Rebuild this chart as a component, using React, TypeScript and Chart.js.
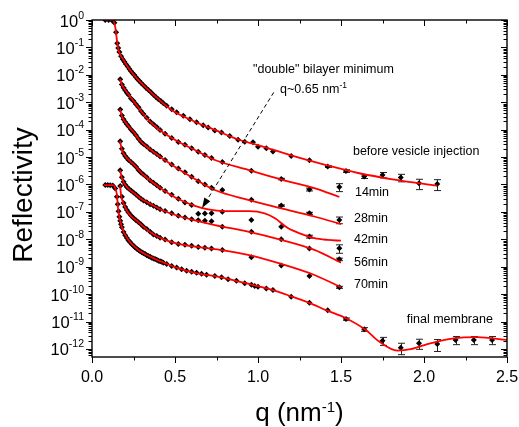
import React, { useEffect, useRef } from 'react';
import { Chart, registerables } from 'chart.js';

Chart.register(...registerables);

const FONT = '"Liberation Sans", Arial, Helvetica, sans-serif';

// ---------- axes ----------
const xTickValues = [0, 0.5, 1.0, 1.5, 2.0, 2.5];
const xTickLabels = ['0.0', '0.5', '1.0', '1.5', '2.0', '2.5'];
const xMinorTicks = [0.25, 0.75, 1.25, 1.75, 2.25];
const yExponents = [0, -1, -2, -3, -4, -5, -6, -7, -8, -9, -10, -11, -12];
const yMin = 5.1e-13;
const yMax = 1;

// ---------- before vesicle injection ----------
const beforeQ = [0.08, 0.10, 0.12, 0.135, 0.145, 0.152, 0.158, 0.165, 0.175, 0.185, 0.195, 0.205, 0.215, 0.225, 0.235, 0.245, 0.255, 0.265, 0.275, 0.285, 0.295, 0.31, 0.325, 0.34, 0.355, 0.37, 0.385, 0.40, 0.415, 0.43, 0.45, 0.48, 0.51, 0.55, 0.59, 0.63, 0.67, 0.70, 0.74, 0.78, 0.83, 0.88, 0.92, 0.97, 1.00, 1.05, 1.09, 1.20, 1.31, 1.42, 1.53, 1.64, 1.75, 1.86, 1.97, 2.08];
const beforeR = [1.0, 0.99, 0.98, 0.79, 0.355, 0.141, 0.095, 0.068, 0.048, 0.037, 0.030, 0.0245, 0.020, 0.0162, 0.0135, 0.0115, 0.0098, 0.0081, 0.0069, 0.0059, 0.0051, 0.0042, 0.0034, 0.0028, 0.0023, 0.00186, 0.00155, 0.00129, 0.0011, 0.00091, 0.00074, 0.00055, 0.00043, 0.00032, 0.00024, 0.000186, 0.000145, 0.00012, 9.3e-5, 7.8e-5, 5.9e-5, 4.3e-5, 3.6e-5, 3.5e-5, 2.4e-5, 2.1e-5, 1.6e-5, 1.1e-5, 7.6e-6, 4.5e-6, 3.1e-6, 1.95e-6, 2.24e-6, 1.8e-6, 1.1e-6, 1.05e-6];
const beforeErr = [3e-7, 3.5e-7, 3e-7, 5e-7, 5.5e-7, 4.5e-7, 4.5e-7];
const beforeFitQ = [0.075, 0.125, 0.14, 0.15, 0.16, 0.19, 0.22, 0.29, 0.36, 0.48, 0.62, 0.74, 0.89, 1.0, 1.21, 1.41, 1.61, 1.81, 2.08];
const beforeFitR = [1.0, 1.0, 0.55, 0.186, 0.081, 0.035, 0.0178, 0.0055, 0.00214, 0.00052, 0.000195, 9.8e-5, 4.2e-5, 2.75e-5, 1.1e-5, 5.1e-6, 2.57e-6, 1.55e-6, 9.1e-7];

// ---------- shared q grid of the time series ----------
const timeQ = [0.17, 0.18, 0.19, 0.20, 0.21, 0.22, 0.235, 0.25, 0.265, 0.28, 0.295, 0.31, 0.33, 0.35, 0.37, 0.39, 0.41, 0.44, 0.48, 0.52, 0.56, 0.60, 0.64, 0.68, 0.72, 0.785, 0.96, 1.14, 1.31, 1.49];

// ---------- 14 min ----------
const min14R = [6.9e-3, 4.4e-3, 3.4e-3, 2.75e-3, 2.24e-3, 1.86e-3, 1.38e-3, 1.1e-3, 8.5e-4, 6.5e-4, 4.8e-4, 3.7e-4, 2.7e-4, 2.0e-4, 1.58e-4, 1.26e-4, 9.8e-5, 7.1e-5, 5.0e-5, 3.55e-5, 2.8e-5, 2.1e-5, 1.58e-5, 1.2e-5, 9.3e-6, 6.6e-6, 3.2e-6, 1.58e-6, 6.6e-7, 8.1e-7];
const min14Err = [1e-7, 8e-8, 2.6e-7];
const min14FitQ = [0.169, 0.18, 0.2, 0.26, 0.29, 0.34, 0.42, 0.52, 0.62, 0.74, 0.94, 1.14, 1.34, 1.49];
const min14FitR = [7.1e-3, 4.3e-3, 2.8e-3, 9.3e-4, 5.2e-4, 2.24e-4, 8.5e-5, 3.6e-5, 1.82e-5, 7.8e-6, 3.4e-6, 1.51e-6, 7.4e-7, 3.5e-7];

// ---------- 28 min ----------
const min28R = [5.4e-4, 3.3e-4, 2.4e-4, 1.9e-4, 1.58e-4, 1.32e-4, 1.02e-4, 8.1e-5, 6.3e-5, 4.7e-5, 3.6e-5, 3.0e-5, 2.45e-5, 1.9e-5, 1.58e-5, 1.29e-5, 1.05e-5, 7.8e-6, 5.4e-6, 3.8e-6, 2.8e-6, 1.9e-6, 1.32e-6, 1.0e-6, 7.6e-7, 6.3e-7, 2.75e-7, 1.7e-7, 8.9e-8, 5.1e-8];
const min28Err = [1e-8, 8e-9, 1.4e-8];
const min28FitQ = [0.169, 0.18, 0.2, 0.26, 0.29, 0.34, 0.42, 0.52, 0.62, 0.74, 0.94, 1.14, 1.34, 1.5];
const min28FitR = [5.6e-4, 3.16e-4, 1.9e-4, 6.9e-5, 3.9e-5, 2.14e-5, 9.3e-6, 3.7e-6, 1.58e-6, 6.3e-7, 2.75e-7, 1.35e-7, 6.8e-8, 3.6e-8];

// ---------- 42 min ----------
const min42R = [3.8e-5, 2.0e-5, 1.38e-5, 1.1e-5, 9.3e-6, 7.9e-6, 6.6e-6, 5.5e-6, 4.4e-6, 3.4e-6, 2.75e-6, 2.3e-6, 1.82e-6, 1.41e-6, 1.15e-6, 9.3e-7, 7.6e-7, 5.8e-7, 4.2e-7, 3.0e-7, 2.2e-7, 1.78e-7, 8.5e-8, 8.7e-8, 8.9e-8, 1.02e-7, 5.1e-8, 2.9e-8, 1.26e-8, 4.7e-9];
const min42Err = [1.5e-9, 1.6e-9];
const min42FitQ = [0.169, 0.18, 0.2, 0.26, 0.29, 0.34, 0.42, 0.52, 0.62, 0.70, 0.80, 0.95, 1.04, 1.10, 1.18, 1.26, 1.34, 1.42, 1.50];
const min42FitR = [3.9e-5, 1.82e-5, 1.1e-5, 4.8e-6, 2.95e-6, 1.58e-6, 6.9e-7, 2.95e-7, 1.66e-7, 1.23e-7, 1.07e-7, 1.07e-7, 8.9e-8, 6.0e-8, 2.57e-8, 1.58e-8, 1.1e-8, 9.5e-9, 8.9e-9];

// ---------- 56 min ----------
const min56R = [3.3e-6, 1.82e-6, 1.26e-6, 9.8e-7, 8.1e-7, 7.1e-7, 6.0e-7, 5.1e-7, 4.3e-7, 3.55e-7, 3.0e-7, 2.6e-7, 2.24e-7, 1.9e-7, 1.66e-7, 1.45e-7, 1.26e-7, 1.07e-7, 8.9e-8, 7.2e-8, 6.2e-8, 5.4e-8, 5.0e-8, 4.8e-8, 4.6e-8, 2.9e-8, 1.9e-8, 1.0e-8, 4.6e-9, 1.86e-9];
const min56Err = [2e-10];
const min56FitQ = [0.169, 0.18, 0.2, 0.26, 0.29, 0.34, 0.42, 0.52, 0.62, 0.74, 0.94, 1.14, 1.34, 1.5];
const min56FitR = [3.4e-6, 1.74e-6, 9.5e-7, 4.5e-7, 3.16e-7, 2.14e-7, 1.17e-7, 7.1e-8, 4.9e-8, 3.3e-8, 1.9e-8, 9.5e-9, 4.1e-9, 1.41e-9];

// ---------- 70 min ----------
const min70R = [8.9e-7, 3.55e-7, 2.1e-7, 1.51e-7, 1.17e-7, 9.5e-8, 7.4e-8, 6.0e-8, 5.0e-8, 4.2e-8, 3.55e-8, 2.9e-8, 2.4e-8, 1.9e-8, 1.51e-8, 1.32e-8, 1.15e-8, 9.8e-9, 7.9e-9, 6.8e-9, 6.3e-9, 5.8e-9, 5.2e-9, 4.9e-9, 4.6e-9, 4.1e-9, 2.2e-9, 1.1e-9, 4.6e-10, 1.78e-10];
const min70Err = [1.5e-11];
const min70FitQ = [0.169, 0.175, 0.19, 0.22, 0.28, 0.36, 0.44, 0.52, 0.62, 0.77, 0.94, 1.14, 1.34, 1.5];
const min70FitR = [9.5e-7, 4.2e-7, 2.0e-7, 8.9e-8, 4.2e-8, 1.66e-8, 9.5e-9, 6.8e-9, 5.4e-9, 4.1e-9, 2.7e-9, 1.26e-9, 5.0e-10, 1.78e-10];

// ---------- final membrane ----------
const finalQ = [0.08, 0.095, 0.11, 0.125, 0.14, 0.15, 0.155, 0.16, 0.165, 0.17, 0.175, 0.18, 0.19, 0.20, 0.21, 0.22, 0.23, 0.24, 0.25, 0.26, 0.27, 0.28, 0.29, 0.30, 0.31, 0.32, 0.33, 0.34, 0.35, 0.36, 0.37, 0.38, 0.39, 0.40, 0.41, 0.42, 0.43, 0.45, 0.48, 0.51, 0.54, 0.57, 0.60, 0.63, 0.66, 0.69, 0.74, 0.78, 0.82, 0.87, 0.92, 0.96, 0.98, 1.00, 1.05, 1.09, 1.20, 1.31, 1.42, 1.53, 1.64, 1.75, 1.86, 1.97, 2.08, 2.19, 2.30, 2.41];
const finalR = [9.5e-7, 9.5e-7, 9.3e-7, 9.1e-7, 7.1e-7, 3.55e-7, 1.9e-7, 1.05e-7, 6.6e-8, 4.8e-8, 3.55e-8, 2.75e-8, 1.86e-8, 1.41e-8, 1.12e-8, 9.1e-9, 7.8e-9, 6.6e-9, 5.8e-9, 5.0e-9, 4.5e-9, 4.1e-9, 3.7e-9, 3.4e-9, 3.1e-9, 2.9e-9, 2.6e-9, 2.45e-9, 2.3e-9, 2.14e-9, 2.0e-9, 1.9e-9, 1.78e-9, 1.66e-9, 1.58e-9, 1.51e-9, 1.41e-9, 1.26e-9, 1.07e-9, 9.3e-10, 8.1e-10, 7.2e-10, 6.6e-10, 6.0e-10, 5.5e-10, 5.1e-10, 4.6e-10, 4.1e-10, 3.5e-10, 3.1e-10, 2.5e-10, 2.2e-10, 2.0e-10, 1.86e-10, 1.62e-10, 1.41e-10, 8.1e-11, 4.9e-11, 2.6e-11, 1.23e-11, 5.2e-12, 2.0e-12, 1.12e-12, 1.62e-12, 1.51e-12, 2.14e-12, 2.14e-12, 2.14e-12];
const finalErr = [1.2e-12, 8e-13, 6.5e-13, 5e-13, 6.5e-13, 7e-13, 7e-13, 7e-13, 7e-13];
const finalFitQ = [0.07, 0.128, 0.14, 0.15, 0.158, 0.179, 0.219, 0.28, 0.36, 0.44, 0.52, 0.62, 0.77, 0.94, 1.01, 1.10, 1.21, 1.31, 1.41, 1.53, 1.65, 1.73, 1.84, 1.92, 2.02, 2.18, 2.32, 2.5];
const finalFitR = [9.5e-7, 9.5e-7, 7.4e-7, 4.2e-7, 1.17e-7, 2.9e-8, 9.5e-9, 4.1e-9, 2.2e-9, 1.35e-9, 8.7e-10, 6.0e-10, 4.2e-10, 2.4e-10, 1.9e-10, 1.35e-10, 7.9e-11, 4.8e-11, 2.6e-11, 1.32e-11, 4.9e-12, 1.86e-12, 8.7e-13, 9.8e-13, 1.51e-12, 2.45e-12, 2.7e-12, 2.14e-12];

// ---------- text annotations (label, q, R) ----------
const seriesLabels = ['before vesicle injection', '14min', '28min', '42min', '56min', '70min', 'final membrane'];
const seriesLabelQ = [1.572, 1.584, 1.578, 1.578, 1.578, 1.578, 1.896];
const seriesLabelR = [1.58e-5, 4.9e-7, 5.9e-8, 1.0e-8, 1.41e-9, 2.2e-10, 1.15e-11];

const series = [
  { q: beforeQ, r: beforeR, err: beforeErr, fq: beforeFitQ, fr: beforeFitR },
  { q: timeQ, r: min14R, err: min14Err, fq: min14FitQ, fr: min14FitR },
  { q: timeQ, r: min28R, err: min28Err, fq: min28FitQ, fr: min28FitR },
  { q: timeQ, r: min42R, err: min42Err, fq: min42FitQ, fr: min42FitR },
  { q: timeQ, r: min56R, err: min56Err, fq: min56FitQ, fr: min56FitR },
  { q: timeQ, r: min70R, err: min70Err, fq: min70FitQ, fr: min70FitR },
  { q: finalQ, r: finalR, err: finalErr, fq: finalFitQ, fr: finalFitR },
];

const pts = (q: number[], r: number[]) => q.map((x, i) => ({ x, y: r[i] }));

const errorBarPlugin = {
  id: 'errorBars',
  beforeDatasetsDraw(chart: any) {
    const { ctx, scales } = chart;
    ctx.save();
    ctx.strokeStyle = '#222';
    ctx.lineWidth = 1;
    chart.data.datasets.forEach((ds: any) => {
      if (!ds.errors) return;
      const off = ds.data.length - ds.errors.length;
      ds.errors.forEach((e: number, i: number) => {
        const p = ds.data[off + i];
        const px = Math.round(scales.x.getPixelForValue(p.x)) + 0.5;
        const yt = scales.y.getPixelForValue(p.y + e);
        const yb = scales.y.getPixelForValue(Math.max(p.y - e, p.y * 0.2));
        ctx.beginPath();
        ctx.moveTo(px, yt); ctx.lineTo(px, yb);
        ctx.moveTo(px - 3.5, yt); ctx.lineTo(px + 3.5, yt);
        ctx.moveTo(px - 3.5, yb); ctx.lineTo(px + 3.5, yb);
        ctx.stroke();
      });
    });
    ctx.restore();
  },
};

function drawSup(ctx: CanvasRenderingContext2D, base: string, sup: string, x: number, y: number,
  baseFont: string, supFont: string, rise: number, align: 'left' | 'center' | 'right', tail = '') {
  ctx.font = baseFont; const wb = ctx.measureText(base).width; const wt = ctx.measureText(tail).width;
  ctx.font = supFont; const ws = ctx.measureText(sup).width;
  const total = wb + ws + wt;
  let start = x;
  if (align === 'center') start = x - total / 2;
  else if (align === 'right') start = x - total;
  ctx.textAlign = 'left';
  ctx.textBaseline = 'alphabetic';
  ctx.font = baseFont; ctx.fillText(base, start, y);
  ctx.font = supFont; ctx.fillText(sup, start + wb, y - rise);
  if (tail) { ctx.font = baseFont; ctx.fillText(tail, start + wb + ws, y); }
}

const axesPlugin = {
  id: 'originAxes',
  afterDraw(chart: any) {
    const { ctx, chartArea: a, scales } = chart;
    const xs = scales.x, ys = scales.y;
    const L = Math.round(a.left), R = Math.round(a.right), T = Math.round(a.top), B = Math.round(a.bottom);
    ctx.save();
    ctx.strokeStyle = '#000';
    ctx.fillStyle = '#000';
    ctx.lineWidth = 1.4;
    ctx.strokeRect(L, T, R - L, B - T);
    ctx.lineWidth = 1;
    ctx.beginPath();
    // x ticks: bottom outward, top inward
    xTickValues.forEach((v) => {
      const px = Math.round(xs.getPixelForValue(v)) + 0.5;
      ctx.moveTo(px, B); ctx.lineTo(px, B + 6);
      ctx.moveTo(px, T); ctx.lineTo(px, T + 6);
    });
    xMinorTicks.forEach((v) => {
      const px = Math.round(xs.getPixelForValue(v)) + 0.5;
      ctx.moveTo(px, B); ctx.lineTo(px, B + 3.5);
      ctx.moveTo(px, T); ctx.lineTo(px, T + 3.5);
    });
    // y ticks: left outward, right inward
    yExponents.forEach((n) => {
      const py = Math.round(ys.getPixelForValue(Math.pow(10, n))) + 0.5;
      ctx.moveTo(L - 6, py); ctx.lineTo(L, py);
      ctx.moveTo(R - 6, py); ctx.lineTo(R, py);
    });
    for (let n = -13; n <= 0; n++) {
      for (let k = 2; k <= 9; k++) {
        const v = k * Math.pow(10, n);
        if (v < yMin || v > yMax) continue;
        const py = Math.round(ys.getPixelForValue(v)) + 0.5;
        ctx.moveTo(L - 3.5, py); ctx.lineTo(L, py);
        ctx.moveTo(R - 3.5, py); ctx.lineTo(R, py);
      }
    }
    ctx.stroke();

    // tick labels
    ctx.font = `16px ${FONT}`;
    ctx.textAlign = 'center';
    ctx.textBaseline = 'alphabetic';
    xTickValues.forEach((v, i) => {
      ctx.fillText(xTickLabels[i], xs.getPixelForValue(v), 382);
    });
    yExponents.forEach((n) => {
      const py = ys.getPixelForValue(Math.pow(10, n));
      drawSup(ctx, '10', String(n), 84, py + 6.5, `16.5px ${FONT}`, `10.5px ${FONT}`, 8, 'right');
    });

    // axis titles
    ctx.save();
    ctx.translate(32, 195);
    ctx.rotate(-Math.PI / 2);
    ctx.font = `28px ${FONT}`;
    ctx.textAlign = 'center';
    ctx.textBaseline = 'alphabetic';
    ctx.fillText('Reflectivity', 0, 0);
    ctx.restore();
    drawSup(ctx, 'q (nm', '-1', (L + R) / 2, 421, `26px ${FONT}`, `15px ${FONT}`, 9, 'center', ')');

    // series labels
    ctx.font = `12.5px ${FONT}`;
    ctx.textAlign = 'left';
    ctx.textBaseline = 'middle';
    seriesLabels.forEach((t, i) => {
      ctx.fillText(t, xs.getPixelForValue(seriesLabelQ[i]), ys.getPixelForValue(seriesLabelR[i]));
    });

    // "double" bilayer annotation
    ctx.fillText('"double" bilayer minimum', xs.getPixelForValue(0.97), ys.getPixelForValue(1.5e-2));
    drawSup(ctx, 'q~0.65 nm', '-1', xs.getPixelForValue(1.133), ys.getPixelForValue(3.3e-3) + 4.5,
      `12.5px ${FONT}`, `8.5px ${FONT}`, 5, 'left');

    // dashed arrow
    const x0 = xs.getPixelForValue(1.095), y0 = ys.getPixelForValue(2.3e-3);
    const x1 = xs.getPixelForValue(0.663), y1 = ys.getPixelForValue(1.4e-7);
    const ang = Math.atan2(y1 - y0, x1 - x0);
    const hl = 10, hw = 3.5;
    const bx = x1 - hl * Math.cos(ang), by = y1 - hl * Math.sin(ang);
    ctx.setLineDash([4, 3]);
    ctx.lineWidth = 1;
    ctx.beginPath();
    ctx.moveTo(x0, y0); ctx.lineTo(bx, by);
    ctx.stroke();
    ctx.setLineDash([]);
    ctx.beginPath();
    ctx.moveTo(x1, y1);
    ctx.lineTo(bx + hw * Math.sin(ang), by - hw * Math.cos(ang));
    ctx.lineTo(bx - hw * Math.sin(ang), by + hw * Math.cos(ang));
    ctx.closePath();
    ctx.fill();
    ctx.restore();
  },
};

export default function App() {
  const ref = useRef<HTMLCanvasElement | null>(null);
  useEffect(() => {
    if (!ref.current) return;
    const datasets: any[] = [];
    series.forEach((s) => {
      datasets.push({
        type: 'line',
        data: pts(s.fq, s.fr),
        borderColor: '#ff0000',
        borderWidth: 1.8,
        pointRadius: 0,
        fill: false,
        cubicInterpolationMode: 'monotone',
        order: 0,
      });
    });
    series.forEach((s) => {
      datasets.push({
        type: 'line',
        data: pts(s.q, s.r),
        showLine: false,
        pointStyle: 'rectRot',
        pointRadius: 3,
        pointBackgroundColor: '#000',
        pointBorderColor: '#000',
        pointBorderWidth: 0,
        order: 1,
        errors: s.err,
      });
    });
    const chart = new Chart(ref.current, {
      type: 'line',
      data: { datasets },
      options: {
        animation: false,
        responsive: false,
        maintainAspectRatio: false,
        devicePixelRatio: 1,
        layout: { padding: { top: 20, right: 12, left: 0, bottom: 0 } },
        plugins: { legend: { display: false }, tooltip: { enabled: false } },
        scales: {
          x: {
            type: 'linear', min: 0, max: 2.5,
            grid: { display: false }, border: { display: false },
            ticks: { display: false },
            afterFit: (sc: any) => { sc.height = 70; },
          },
          y: {
            type: 'logarithmic', min: yMin, max: yMax,
            grid: { display: false }, border: { display: false },
            ticks: { display: false },
            afterFit: (sc: any) => { sc.width = 92; },
          },
        },
      } as any,
      plugins: [errorBarPlugin, axesPlugin],
    });
    return () => chart.destroy();
  }, []);
  return (
    <div style={{ position: 'fixed', left: 0, top: 0, width: 519, height: 427, background: '#fff' }}>
      <canvas ref={ref} width={519} height={427} style={{ display: 'block' }} />
    </div>
  );
}
